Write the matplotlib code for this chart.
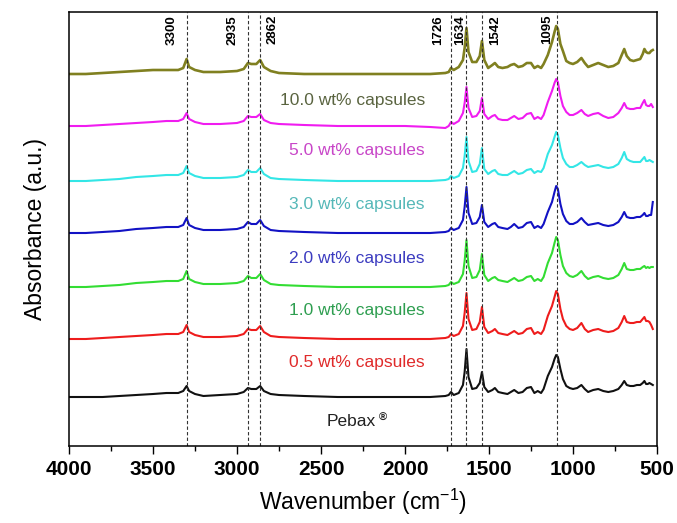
import numpy as np
import matplotlib
matplotlib.use("Agg")
from matplotlib import pyplot as plt
from matplotlib.ticker import MultipleLocator

plt.rcParams['font.family'] = ['Liberation Sans', 'DejaVu Sans']
plt.rcParams['mathtext.fontset'] = 'custom'
plt.rcParams['mathtext.rm'] = 'Liberation Sans'
plt.rcParams['mathtext.it'] = 'Liberation Sans:italic'

# Wavenumber grid (cm-1) and absorbance (a.u., above each baseline)
wavenumber = [4000, 3900, 3800, 3700, 3600, 3500, 3420, 3350, 3320, 3300,
              3285, 3250, 3200, 3100, 3000, 2960, 2935, 2915, 2885, 2862,
              2840, 2800, 2750, 2600, 2400, 2200, 2000, 1850, 1760, 1740,
              1726, 1710, 1680, 1655, 1645, 1634, 1622, 1600, 1575, 1555,
              1542, 1528, 1505, 1480, 1465, 1445, 1420, 1390, 1370, 1350,
              1325, 1300, 1275, 1250, 1230, 1210, 1190, 1175, 1150, 1125,
              1110, 1100, 1090, 1075, 1060, 1040, 1020, 1000, 975, 950,
              930, 910, 880, 850, 820, 790, 760, 730, 710, 695,
              680, 660, 640, 620, 600, 585, 575, 565, 555, 545,
              535, 525]

pebax = [0, 0, 0, 1, 2, 3, 4, 4, 6, 11,
         6, 3, 1, 2, 3, 5, 9, 8, 8, 11,
         6, 3, 2, 1, 0, 0, 0, 0, 1, 2,
         5, 2, 4, 12, 25, 48, 20, 8, 9, 14,
         25, 10, 5, 7, 9, 5, 4, 3, 5, 7,
         4, 5, 9, 10, 4, 6, 4, 8, 21, 30,
         38, 42, 40, 28, 18, 11, 9, 8, 9, 12,
         8, 5, 7, 8, 6, 5, 6, 8, 12, 16,
         12, 11, 11, 12, 12, 14, 16, 13, 13, 14,
         13, 12]

caps_05 = [0, 0, 1, 2, 3, 4, 5, 5, 7, 14,
           7, 4, 2, 2, 3, 5, 10, 9, 9, 13,
           7, 3, 2, 1, 0, 0, 0, 0, 1, 2,
           5, 3, 5, 13, 26, 46, 20, 9, 10, 17,
           32, 12, 6, 8, 10, 6, 5, 4, 6, 8,
           5, 6, 10, 11, 5, 7, 5, 9, 23, 33,
           42, 48, 45, 30, 20, 13, 10, 9, 11, 16,
           10, 7, 9, 10, 8, 7, 8, 11, 17, 23,
           17, 16, 16, 17, 17, 20, 22, 18, 18, 17,
           14, 10]

caps_10 = [0, 0, 1, 2, 4, 5, 6, 6, 8, 16,
           8, 5, 3, 3, 4, 6, 11, 9, 9, 13,
           7, 3, 2, 1, 0, 0, 0, 0, 1, 2,
           5, 3, 5, 13, 26, 47, 21, 9, 10, 17,
           33, 12, 6, 9, 10, 7, 6, 5, 7, 9,
           6, 7, 10, 11, 6, 8, 6, 10, 24, 34,
           44, 50, 47, 32, 21, 14, 11, 10, 12, 16,
           11, 8, 10, 11, 9, 8, 9, 12, 18, 24,
           18, 17, 17, 18, 18, 20, 21, 19, 20, 19,
           20, 20]

caps_20 = [0, 0, 1, 2, 4, 5, 6, 6, 8, 15,
           8, 5, 3, 3, 4, 6, 11, 9, 9, 13,
           7, 3, 2, 1, 0, 0, 0, 0, 1, 2,
           5, 3, 5, 13, 26, 46, 20, 9, 10, 16,
           28, 11, 6, 9, 10, 6, 5, 4, 6, 9,
           5, 6, 10, 11, 5, 7, 5, 9, 21, 31,
           41, 47, 44, 29, 19, 12, 9, 9, 11, 15,
           11, 8, 9, 10, 8, 7, 8, 11, 16, 21,
           16, 15, 15, 16, 16, 18, 20, 17, 17, 18,
           18, 31]

caps_30 = [0, 0, 1, 2, 4, 5, 6, 6, 8, 15,
           8, 5, 3, 3, 4, 6, 11, 9, 9, 13,
           7, 3, 2, 1, 0, 0, 0, 0, 1, 2,
           5, 3, 5, 13, 25, 44, 20, 9, 10, 17,
           33, 12, 7, 10, 11, 7, 6, 6, 8, 10,
           7, 8, 11, 12, 8, 10, 9, 13, 27, 36,
           44, 49, 46, 33, 23, 17, 14, 14, 16, 19,
           16, 14, 15, 16, 14, 13, 14, 17, 23, 29,
           22, 20, 19, 19, 19, 22, 24, 20, 20, 21,
           20, 19]

caps_50 = [0, 0, 1, 2, 3, 4, 5, 5, 7, 13,
           7, 4, 2, 2, 3, 5, 10, 9, 9, 12,
           6, 3, 2, 1, 0, 0, 0, -1, -2, 0,
           4, 2, 5, 13, 23, 39, 18, 9, 10, 15,
           28, 12, 7, 10, 11, 7, 6, 6, 8, 10,
           7, 8, 12, 13, 7, 9, 7, 11, 24, 35,
           43, 47, 44, 30, 20, 14, 11, 11, 13, 16,
           12, 10, 12, 13, 10, 8, 9, 13, 18, 23,
           18, 17, 17, 18, 18, 23, 26, 21, 20, 20,
           22, 19]

caps_100 = [0, 0, 1, 2, 3, 4, 4, 4, 6, 15,
            7, 4, 2, 2, 3, 5, 11, 10, 10, 14,
            7, 3, 1, 0, 0, 0, 0, 0, 1, 2,
            6, 4, 7, 14, 26, 46, 22, 12, 12, 18,
            33, 14, 6, 9, 11, 7, 6, 7, 9, 10,
            7, 8, 11, 11, 6, 8, 6, 10, 19, 32,
            42, 48, 45, 30, 23, 13, 11, 10, 12, 16,
            11, 7, 9, 11, 9, 7, 8, 11, 19, 25,
            18, 14, 13, 14, 15, 20, 25, 22, 21, 21,
            23, 24]

series = [pebax, caps_05, caps_10, caps_20, caps_30, caps_50, caps_100]
series_labels = ["Pebax", "0.5 wt% capsules", "1.0 wt% capsules", "2.0 wt% capsules",
                 "3.0 wt% capsules", "5.0 wt% capsules", "10.0 wt% capsules"]

peaks = [3300, 2935, 2862, 1726, 1634, 1542, 1095]

# layout / styling
offsets = [49, 107, 159, 213, 265, 320, 372]
label_y = [24, 84, 135, 188, 241, 296, 346]
line_colors = ['#111111', '#ee1c1c', '#33dd33', '#1212c4', '#33e6e6', '#f01cf0', '#808020']
text_colors = ['#222222', '#e02a2a', '#2e9e50', '#3c3cc0', '#55b8b8', '#c846c8', '#5a6440']
line_widths = [1.5, 1.5, 1.5, 1.5, 1.5, 1.5, 1.9]
peak_label_x = [3387, 3024, 2786, 1804, 1673, 1464, 1155]

fig = plt.figure(figsize=(6.77, 5.23), dpi=100)
ax = fig.add_axes([69 / 677, 1 - 446 / 523, 588 / 677, 434 / 523])

wn = np.array(wavenumber)
for i, ys in enumerate(series):
    ax.plot(wn, np.array(ys) + offsets[i], color=line_colors[i], lw=line_widths[i])

ax.set_xlim(4000, 500)
ax.set_ylim(0, 434)

for p, lx in zip(peaks, peak_label_x):
    ax.axvline(p, color='#333333', lw=0.8, ls=(0, (3, 2)))
    ax.text(lx, 431, str(p), rotation=90, ha='center', va='top',
            fontsize=9.5, fontweight='bold')

for i, lab in enumerate(series_labels):
    if i == 0:
        t = ax.text(2464, label_y[i], lab, ha='left', va='center',
                    fontsize=12.5, color=text_colors[i])
        ax.annotate('®', xy=(1, 0.75), xycoords=t, xytext=(2, 0),
                    textcoords='offset points', fontsize=8, fontweight='bold',
                    va='center', ha='left', color=text_colors[i])
    else:
        ax.text(1881, label_y[i], lab, ha='right', va='center',
                fontsize=12.5, color=text_colors[i])

ax.xaxis.set_major_locator(MultipleLocator(500))
ax.xaxis.set_minor_locator(MultipleLocator(250))
ax.tick_params(axis='x', which='major', direction='out', length=5.8, width=1,
               labelsize=15, pad=4)
ax.tick_params(axis='x', which='minor', direction='out', length=3.6, width=1)
ax.tick_params(axis='y', left=False, labelleft=False)
for lbl in ax.get_xticklabels():
    lbl.set_fontweight('bold')
for sp in ax.spines.values():
    sp.set_linewidth(1.1)

ax.set_xlabel('Wavenumber (cm$^{-1}$)', fontsize=16.5, labelpad=6)
ax.set_ylabel('Absorbance (a.u.)', fontsize=16.5, labelpad=16)

fig.savefig('out.png', dpi=100)
